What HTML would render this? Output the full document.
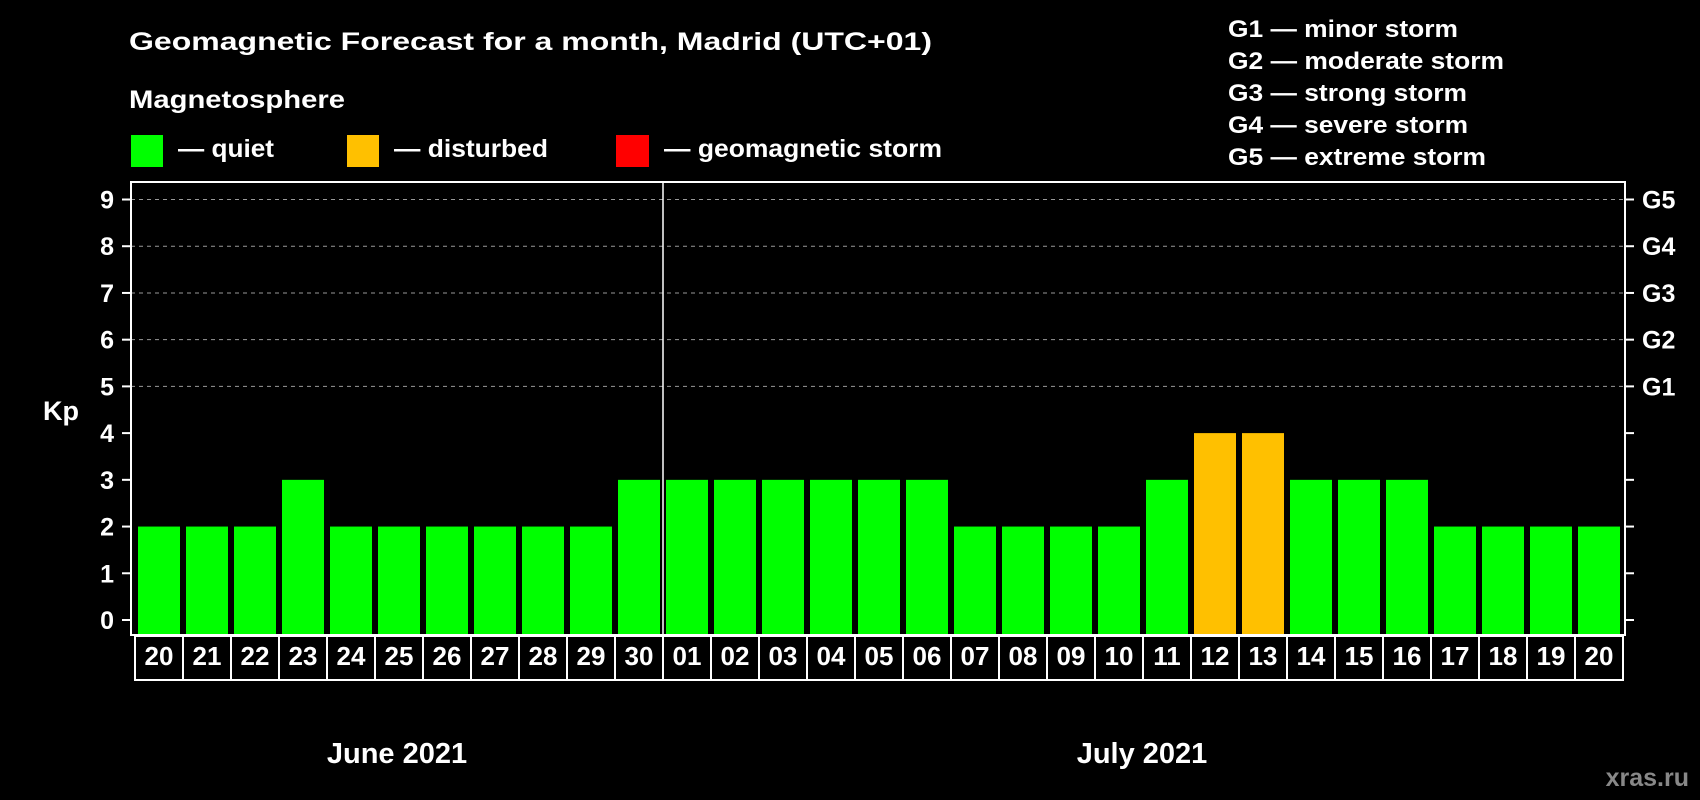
<!DOCTYPE html>
<html><head><meta charset="utf-8"><style>
html,body{margin:0;padding:0;background:#000;width:1700px;height:800px;overflow:hidden}
svg{display:block;font-family:"Liberation Sans",Arial,sans-serif;font-weight:bold}
</style></head><body>
<svg id="chart" width="1700" height="800" viewBox="0 0 1700 800" xmlns="http://www.w3.org/2000/svg">
<rect width="1700" height="800" fill="#000"/>
<text x="129" y="50" fill="#fff" font-size="25" textLength="803" lengthAdjust="spacingAndGlyphs">Geomagnetic Forecast for a month, Madrid (UTC+01)</text>
<text x="129" y="108" fill="#fff" font-size="25" textLength="216" lengthAdjust="spacingAndGlyphs">Magnetosphere</text>
<rect x="131" y="135" width="32" height="32" fill="#00ff00"/>
<text x="178" y="157" fill="#fff" font-size="25" textLength="96" lengthAdjust="spacingAndGlyphs">— quiet</text>
<rect x="347" y="135" width="32" height="32" fill="#ffc000"/>
<text x="394" y="157" fill="#fff" font-size="25" textLength="154" lengthAdjust="spacingAndGlyphs">— disturbed</text>
<rect x="616" y="135" width="33" height="32" fill="#ff0000"/>
<text x="664" y="157" fill="#fff" font-size="25" textLength="278" lengthAdjust="spacingAndGlyphs">— geomagnetic storm</text>
<g fill="#fff" font-size="24">
<text x="1228" y="37" textLength="230" lengthAdjust="spacingAndGlyphs">G1 — minor storm</text>
<text x="1228" y="69" textLength="276" lengthAdjust="spacingAndGlyphs">G2 — moderate storm</text>
<text x="1228" y="101" textLength="239" lengthAdjust="spacingAndGlyphs">G3 — strong storm</text>
<text x="1228" y="133" textLength="240" lengthAdjust="spacingAndGlyphs">G4 — severe storm</text>
<text x="1228" y="165" textLength="258" lengthAdjust="spacingAndGlyphs">G5 — extreme storm</text>
</g>
<text x="43" y="420" fill="#fff" font-size="27">Kp</text>
<g id="plot"></g>
<text x="397" y="763" fill="#fff" font-size="29" text-anchor="middle">June 2021</text>
<text x="1142" y="763" fill="#fff" font-size="29" text-anchor="middle">July 2021</text>
<text x="1689" y="786" fill="#888" font-size="25" text-anchor="end">xras.ru</text>
</svg>
<script>
const days = ["20","21","22","23","24","25","26","27","28","29","30","01","02","03","04","05","06","07","08","09","10","11","12","13","14","15","16","17","18","19","20"];
const kp = [2,2,2,3,2,2,2,2,2,2,3,3,3,3,3,3,3,2,2,2,2,3,4,4,3,3,3,2,2,2,2];
const yTicks = [0,1,2,3,4,5,6,7,8,9];
const gLabels = ["G1","G2","G3","G4","G5"];
const gLevels = [5,6,7,8,9];
const monthBreakIndex = 11;

const NS = "http://www.w3.org/2000/svg";
const plotG = document.getElementById("plot");
const plotLeft = 131, plotRight = 1625, plotTop = 182, plotBottom = 635;
const x0 = 135, pitch = (1623 - 135) / days.length;
const yScale = v => 620 - v * (620 - 199.5) / 9;
const xScale = i => x0 + i * pitch;
function mk(tag, attrs){const e=document.createElementNS(NS,tag);for(const k in attrs)e.setAttribute(k,attrs[k]);plotG.appendChild(e);return e;}
function color(v){return v>=5?"#ff0000":v>=4?"#ffc000":"#00ff00";}

gLevels.forEach((lv,i)=>{
  const y=yScale(lv);
  const l=mk("line",{x1:plotLeft,x2:plotRight,y1:y,y2:y,stroke:"#999","stroke-width":1,"stroke-dasharray":"4,4"});
  
  
  const t=mk("text",{x:1642,y:y+9,fill:"#fff","font-size":25});
  t.textContent=gLabels[i];
  
  
});
yTicks.forEach(v=>{
  const y=yScale(v);
  const a=mk("line",{x1:122,x2:plotLeft,y1:y,y2:y,stroke:"#fff","stroke-width":2});
  
  
  const b=mk("line",{x1:plotRight,x2:1634,y1:y,y2:y,stroke:"#fff","stroke-width":2});
  
  
  const t=mk("text",{x:114,y:y+9,fill:"#fff","font-size":25,"text-anchor":"end"});
  t.textContent=v;
  
  
});
kp.forEach((v,i)=>{
  const x=xScale(i)+3;
  const r=mk("rect",{x:x,y:yScale(v),width:pitch-6,height:plotBottom-1-yScale(v),fill:color(v)});
  
  
  const bx=mk("rect",{x:xScale(i),y:636,width:pitch,height:44,fill:"none",stroke:"#fff","stroke-width":2});
  
  
  const t=mk("text",{x:xScale(i)+pitch/2,y:665,fill:"#fff","font-size":26,"text-anchor":"middle"});
  t.textContent=days[i];
  
  
});
const sepX=xScale(monthBreakIndex);
const sep=mk("line",{x1:sepX,x2:sepX,y1:plotTop,y2:plotBottom,stroke:"#fff","stroke-width":1.5});


const fr=mk("rect",{x:plotLeft,y:plotTop,width:plotRight-plotLeft,height:plotBottom-plotTop,fill:"none",stroke:"#fff","stroke-width":2});


</script>
</body></html>
